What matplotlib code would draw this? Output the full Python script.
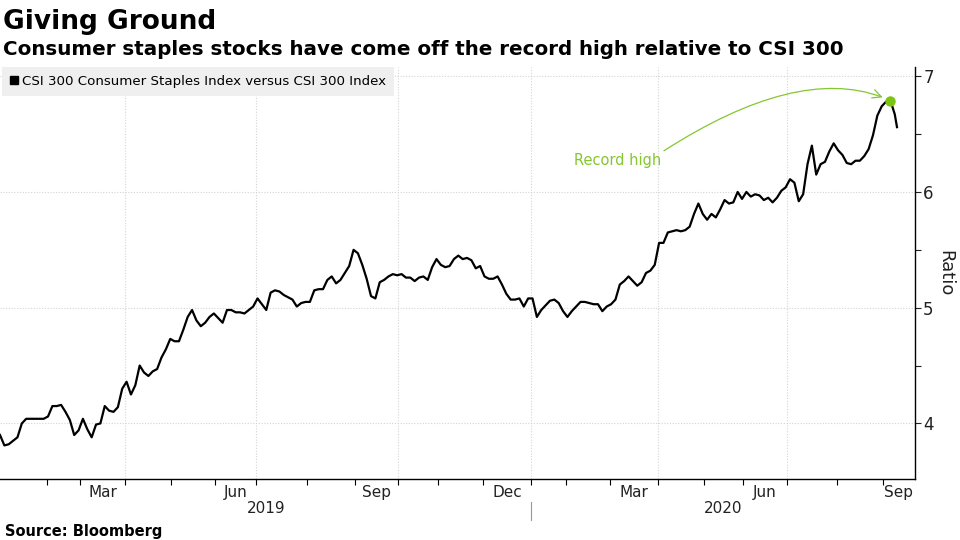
import numpy as np
import pandas as pd
import matplotlib
matplotlib.use('Agg')
import matplotlib.pyplot as plt
import matplotlib.transforms as mtransforms
from matplotlib.lines import Line2D

title = 'Giving Ground'
subtitle = 'Consumer staples stocks have come off the record high relative to CSI 300'
series_name = 'CSI 300 Consumer Staples Index versus CSI 300 Index'
source = 'Source: Bloomberg'

# trading calendar (Shanghai / Shenzhen exchange holidays on weekdays)
first_day, last_day = '2019-01-02', '2020-09-09'
holidays = ['2019-01-01', '2019-02-04', '2019-02-05', '2019-02-06', '2019-02-07', '2019-02-08',
            '2019-04-05', '2019-05-01', '2019-05-02', '2019-05-03', '2019-06-07', '2019-09-13',
            '2019-10-01', '2019-10-02', '2019-10-03', '2019-10-04', '2019-10-07',
            '2020-01-01', '2020-01-24', '2020-01-27', '2020-01-28', '2020-01-29', '2020-01-30',
            '2020-01-31', '2020-04-06', '2020-05-01', '2020-05-04', '2020-05-05',
            '2020-06-25', '2020-06-26']

# ratio, read every second trading day (plus the last one)
ratio = [3.90, 3.81, 3.82, 3.85, 3.88, 4.00, 4.04, 4.04, 4.04, 4.04,
         4.04, 4.06, 4.15, 4.15, 4.16, 4.10, 4.03, 3.90, 3.94, 4.04,
         3.95, 3.88, 3.99, 4.00, 4.15, 4.11, 4.10, 4.14, 4.30, 4.36,
         4.25, 4.33, 4.50, 4.44, 4.41, 4.45, 4.47, 4.57, 4.64, 4.73,
         4.71, 4.71, 4.81, 4.92, 4.98, 4.89, 4.84, 4.87, 4.92, 4.95,
         4.91, 4.87, 4.98, 4.98, 4.96, 4.96, 4.95, 4.98, 5.01, 5.08,
         5.03, 4.98, 5.13, 5.15, 5.14, 5.11, 5.09, 5.07, 5.01, 5.04,
         5.05, 5.05, 5.15, 5.16, 5.16, 5.24, 5.27, 5.21, 5.24, 5.30,
         5.36, 5.50, 5.47, 5.37, 5.25, 5.10, 5.08, 5.22, 5.24, 5.27,
         5.29, 5.28, 5.29, 5.26, 5.26, 5.23, 5.26, 5.27, 5.24, 5.35,
         5.42, 5.37, 5.35, 5.36, 5.42, 5.45, 5.42, 5.43, 5.41, 5.34,
         5.36, 5.27, 5.25, 5.25, 5.27, 5.20, 5.12, 5.07, 5.07, 5.08,
         5.01, 5.08, 5.08, 4.92, 4.98, 5.02, 5.06, 5.07, 5.04, 4.97,
         4.92, 4.97, 5.01, 5.05, 5.05, 5.04, 5.03, 5.03, 4.97, 5.01,
         5.03, 5.07, 5.20, 5.23, 5.27, 5.23, 5.19, 5.22, 5.30, 5.32,
         5.37, 5.56, 5.56, 5.65, 5.66, 5.67, 5.66, 5.67, 5.70, 5.81,
         5.90, 5.81, 5.76, 5.81, 5.78, 5.85, 5.93, 5.90, 5.91, 6.00,
         5.94, 6.00, 5.96, 5.98, 5.97, 5.93, 5.95, 5.91, 5.95, 6.01,
         6.04, 6.11, 6.08, 5.92, 5.98, 6.24, 6.40, 6.15, 6.24, 6.26,
         6.35, 6.42, 6.36, 6.32, 6.25, 6.24, 6.27, 6.27, 6.31, 6.37,
         6.49, 6.66, 6.74, 6.78, 6.79, 6.67,
         6.56]

month_labels = {3: 'Mar', 6: 'Jun', 9: 'Sep', 12: 'Dec'}
y_ticks = [4, 5, 6, 7]
y_minor = [4.5, 5.5, 6.5]

green = '#86c631'
grid_col = '#d4d4d4'

days = pd.bdate_range(first_day, last_day, freq='C', holidays=holidays)
pos = np.r_[np.arange(0, len(days), 2), len(days) - 1]

x_right = 419.2

fig = plt.figure(figsize=(9.6, 5.4), dpi=100)
ax = fig.add_axes([0.0, 0.113, 0.953, 0.763])

ax.plot(pos, ratio, color='black', lw=1.6, zorder=3)

# month boundaries on the trading-day axis
periods = days.to_period('M')
starts = np.flatnonzero(np.r_[True, periods[1:] != periods[:-1]])
bounds = starts - 0.5
months = periods[starts].month
years = periods[starts].year
ends = np.r_[bounds[1:], x_right]
centers = (bounds + ends) / 2
show = np.isin(months, list(month_labels))

ax.set_xticks(centers[show])
ax.set_xticklabels([month_labels[m] for m in months[show]])
ax.set_xticks(bounds[1:], minor=True)
ax.tick_params(axis='x', which='major', length=0, pad=4, labelsize=11, colors='#222222')
ax.tick_params(axis='x', which='minor', length=4, direction='out', width=0.8)

for b, m in zip(bounds, months):
    if m in (1, 4, 7, 10) and b > 0:
        ax.axvline(b, color=grid_col, lw=0.8, ls=(0, (1, 1.5)), zorder=0)

# year labels and separator
trans = mtransforms.blended_transform_factory(ax.transData, ax.transAxes)
year_list = sorted(set(years))
for i, yr in enumerate(year_list):
    y0 = max(bounds[years == yr][0], 0)
    y1 = bounds[years == year_list[i + 1]][0] if i + 1 < len(year_list) else x_right
    ax.text((y0 + y1) / 2, -0.072, str(yr), transform=trans, ha='center', va='center',
            fontsize=11, color='#222222')
    if i > 0:
        ax.plot([y0, y0], [-0.056, -0.1], transform=trans, clip_on=False,
                color='#999999', lw=0.8)

ax.set_xlim(0, x_right)
ax.set_ylim(3.52, 7.08)
ax.yaxis.tick_right()
ax.yaxis.set_label_position('right')
ax.set_yticks(y_ticks)
ax.set_yticks(y_minor, minor=True)
ax.tick_params(axis='y', which='both', direction='out', length=4, width=0.8,
               labelsize=12, pad=2, colors='#222222')
ax.yaxis.grid(True, which='major', color=grid_col, lw=0.8, ls=(0, (1, 1.5)), zorder=0)
ax.set_ylabel('Ratio', rotation=270, labelpad=15, fontsize=13, color='#222222')

for s in ['left', 'top']:
    ax.spines[s].set_visible(False)
for s in ['bottom', 'right']:
    ax.spines[s].set_linewidth(1.0)

handle = Line2D([], [], marker='s', color='black', ls='none', markersize=6)
ax.legend([handle], [series_name], loc='upper left', bbox_to_anchor=(0.002, 1.0),
          frameon=True, fancybox=False, facecolor='#efefef', edgecolor='none',
          framealpha=1, fontsize=9.6, handlelength=0.7, handletextpad=0.2,
          borderaxespad=0.0, borderpad=0.6)

# record high marker and note
k = int(np.argmax(ratio))
ax.plot(pos[k], ratio[k], 'o', color='#7cc410', ms=6.5, zorder=5)
ax.annotate('Record high', xy=(pos[k], ratio[k]), xytext=(0.675, 0.774),
            textcoords='axes fraction', ha='center', va='center', fontsize=10.5,
            color=green,
            arrowprops=dict(arrowstyle='->,head_length=0.6,head_width=0.3', color=green,
                            lw=0.9, relpos=(1.0, 1.0), shrinkA=0, shrinkB=6,
                            connectionstyle='angle3,angleA=33,angleB=-24'))

fig.text(0.003, 0.947, title, fontsize=19, fontweight='bold', va='baseline')
fig.text(0.003, 0.898, subtitle, fontsize=14.3, fontweight='bold', va='baseline')
fig.text(0.005, 0.008, source, fontsize=10.5, fontweight='bold', va='baseline')

fig.savefig('out.png', dpi=100)
